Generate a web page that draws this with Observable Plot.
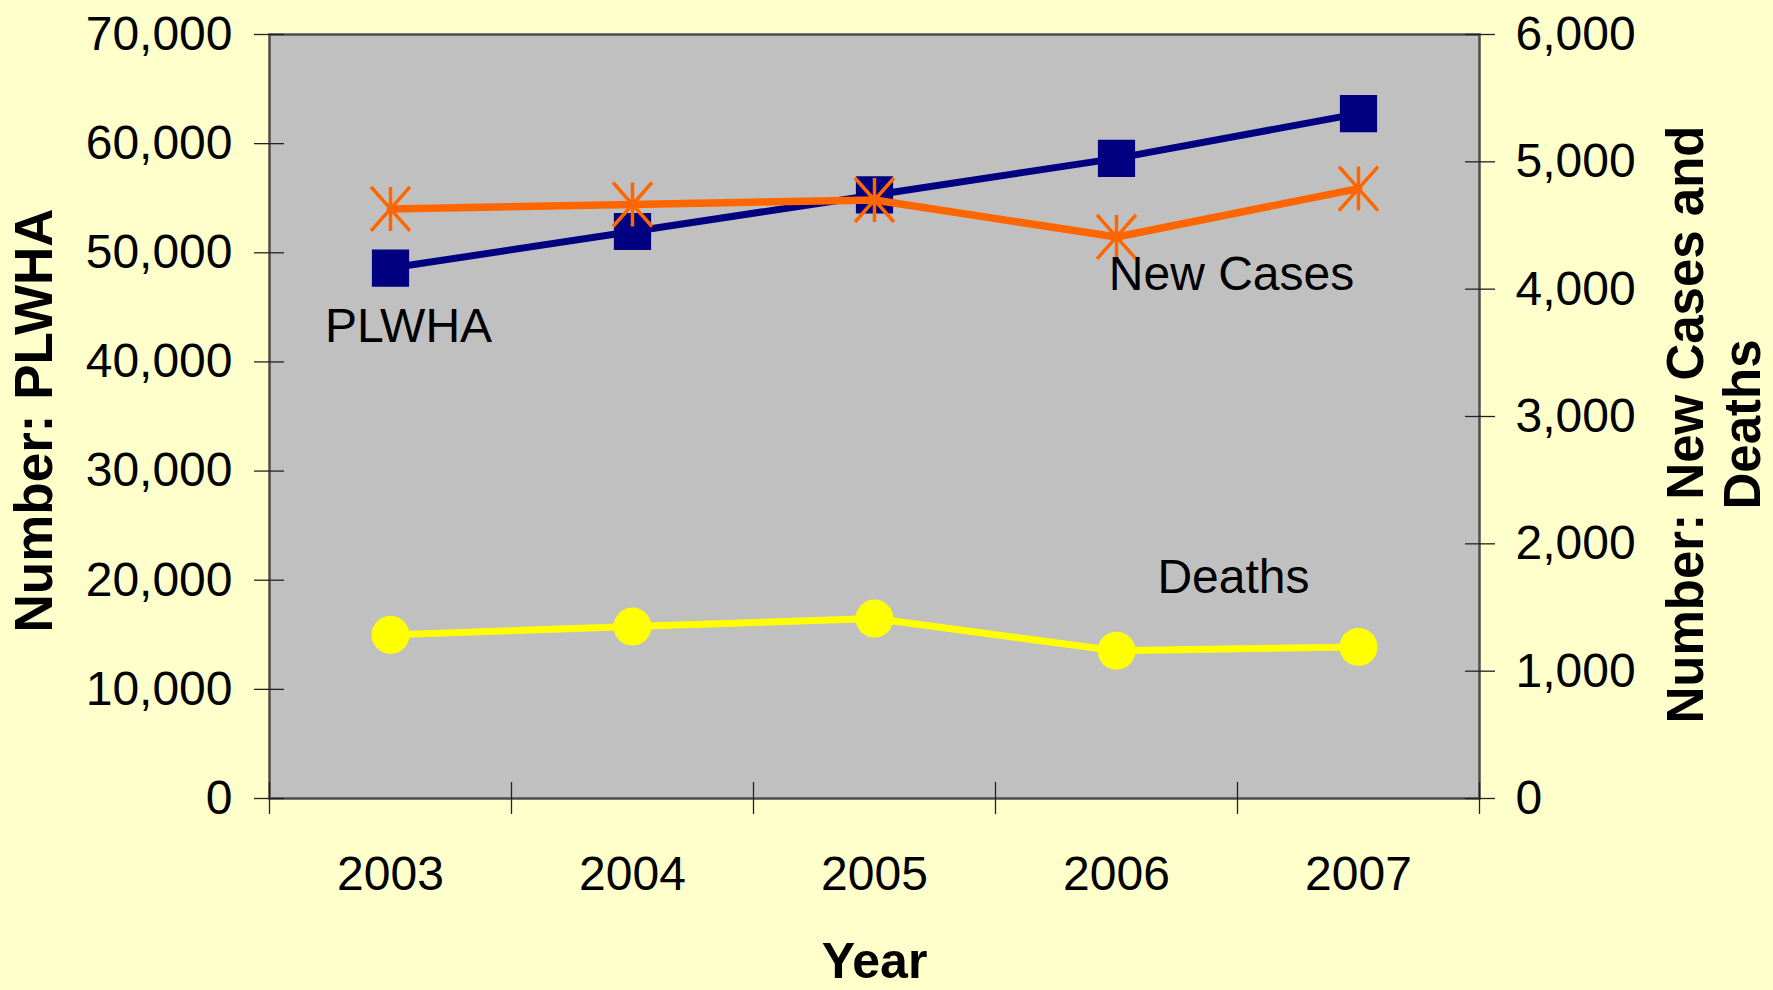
<!DOCTYPE html>
<html>
<head>
<meta charset="utf-8">
<script src="https://cdn.jsdelivr.net/npm/d3@7"></script>
<script src="https://cdn.jsdelivr.net/npm/@observablehq/plot@0.6"></script>
<style>
  html, body { margin: 0; padding: 0; background: #FFFFCC; }
  svg { display: block; }
</style>
</head>
<body>
<div id="chart"></div>
<script>
// ---- Data ----
const years = [2003, 2004, 2005, 2006, 2007];
const plwha = [48600, 51950, 55300, 58650, 62750];      // left axis
const newCases = [4630, 4665, 4700, 4410, 4790];         // right axis
const deaths = [1285, 1350, 1413, 1160, 1190];           // right axis
const leftTicks = [0, 10000, 20000, 30000, 40000, 50000, 60000, 70000];
const rightTicks = [0, 1000, 2000, 3000, 4000, 5000, 6000];
const xBounds = [2002.5, 2003.5, 2004.5, 2005.5, 2006.5, 2007.5];
const leftTitle = "Number: PLWHA";
const rightTitle = "Number: New Cases and\nDeaths";
const xTitle = "Year";
const seriesLabels = ["PLWHA", "New Cases", "Deaths"];

// right axis values are mapped onto the left scale
const k = 70000 / 6000;
const table = years.map((year, i) => ({
  year,
  plwha: plwha[i],
  newCases: newCases[i] * k,
  deaths: deaths[i] * k
}));

const fmt = d3.format(",");
const font = "Liberation Sans, Arial, Helvetica, sans-serif";

const star = {
  draw(context, size) {
    const r = Math.sqrt(size / Math.PI);
    const h = r * 1.1, w = r * 0.975;
    context.moveTo(0, -h); context.lineTo(0, h);
    context.moveTo(-w, -h); context.lineTo(w, h);
    context.moveTo(-w, h); context.lineTo(w, -h);
  }
};

const chart = Plot.plot({
  width: 1773,
  height: 990,
  marginLeft: 269,
  marginRight: 294,
  marginTop: 34,
  marginBottom: 192,
  style: { background: "#FFFFCC", fontFamily: font, color: "black" },
  x: { type: "linear", domain: [2002.5, 2007.5] },
  y: { domain: [0, 70000] },
  marks: [
    Plot.frame({ fill: "#C0C0C0", stroke: "#4d4d4d", strokeWidth: 2.5 }),
    // x ticks at category boundaries
    Plot.axisX(xBounds, { anchor: "bottom", tickSize: 32, dy: -16, tickFormat: () => "", stroke: "#222", strokeWidth: 1.3, label: null }),
    Plot.axisX(years, { anchor: "bottom", tickSize: 0, tickPadding: 57, tickFormat: d => String(d), fontSize: 48, fill: "black", label: null }),
    // left axis
    Plot.axisY(leftTicks, { anchor: "left", tickSize: 30, dx: 15, tickFormat: () => "", stroke: "#222", strokeWidth: 1.3, label: null }),
    Plot.axisY(leftTicks, { anchor: "left", tickSize: 0, tickPadding: 37, tickFormat: fmt, fontSize: 48, fill: "black", label: null }),
    // right axis
    Plot.axisY(rightTicks.map(v => v * k), { anchor: "right", tickSize: 30, dx: -15, tickFormat: () => "", stroke: "#222", strokeWidth: 1.3, label: null }),
    Plot.axisY(rightTicks.map(v => v * k), { anchor: "right", tickSize: 0, tickPadding: 36, tickFormat: d => fmt(Math.round(d / k)), fontSize: 48, fill: "black", label: null }),
    // PLWHA
    Plot.line(table, { x: "year", y: "plwha", stroke: "#000080", strokeWidth: 7 }),
    Plot.dot(table, { x: "year", y: "plwha", symbol: "square", r: 21, fill: "#000080", stroke: "none" }),
    // New cases
    Plot.line(table, { x: "year", y: "newCases", stroke: "#FF6600", strokeWidth: 7.5 }),
    Plot.dot(table, { x: "year", y: "newCases", symbol: star, r: 20, fill: "none", stroke: "#FF6600", strokeWidth: 3.5 }),
    // Deaths
    Plot.line(table, { x: "year", y: "deaths", stroke: "#FFFF00", strokeWidth: 7 }),
    Plot.dot(table, { x: "year", y: "deaths", symbol: "circle", r: 19, fill: "#FFFF00", stroke: "none" }),
    // series labels anchored to data points
    Plot.text(table.filter(d => d.year === 2003), { x: "year", y: "plwha", text: () => seriesLabels[0], dx: 18, dy: 59, fontSize: 48, fill: "black" }),
    Plot.text(table.filter(d => d.year === 2006), { x: "year", y: "newCases", text: () => seriesLabels[1], dx: 115, dy: 38, fontSize: 48, fill: "black" }),
    Plot.text(table.filter(d => d.year === 2006), { x: "year", y: "deaths", text: () => seriesLabels[2], dx: 117, dy: -73, fontSize: 48, fill: "black" }),
    // axis titles
    Plot.text([leftTitle], { frameAnchor: "left", textAnchor: "middle", lineAnchor: "middle", text: d => d, rotate: -90, dx: -234, dy: 4, fontSize: 53, fontWeight: "bold", fill: "black" }),
    Plot.text([rightTitle], { frameAnchor: "right", textAnchor: "middle", lineAnchor: "middle", text: d => d, rotate: -90, dx: 234, dy: 8, fontSize: 51, lineHeight: 1.12, fontWeight: "bold", fill: "black" }),
    Plot.text([xTitle], { frameAnchor: "bottom", textAnchor: "middle", lineAnchor: "middle", text: d => d, dy: 163, fontSize: 50, fontWeight: "bold", fill: "black" })
  ]
});

document.getElementById("chart").appendChild(chart);
</script>
</body>
</html>
